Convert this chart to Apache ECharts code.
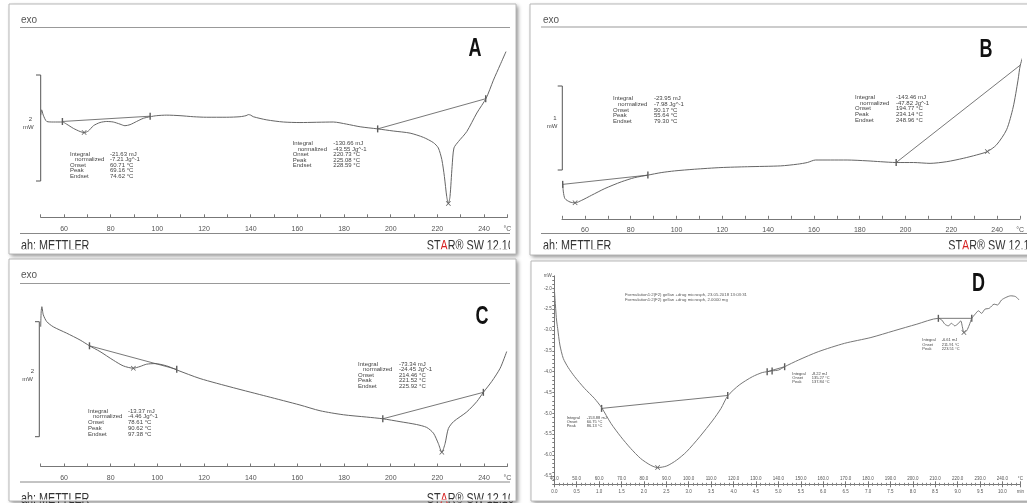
<!DOCTYPE html>
<html><head><meta charset="utf-8">
<script src="https://cdn.jsdelivr.net/npm/echarts@6/dist/echarts.min.js"></script>
<style>html,body{margin:0;padding:0;background:#fff}#c{width:1027px;height:503px}</style>
</head><body><div id="c"></div>
<script>
// ---------- Panel A (heat flow, mW, vs temperature, °C) ----------
const A_temp = [50.0,50.4,51.1,52.6,55.4,59.3,61.1,64.0,66.9,68.6,70.4,72.6,75.4,78.3,81.1,84.0,86.1,88.3,91.1,94.0,96.9,99.7,104.0,109.7,115.4,121.1,129.7,135.4,138.0,139.0,140.0,141.1,146.9,154.0,161.1,175.4,181.1,186.9,194.4,201.1,208.3,214.0,218.3,220.4,221.9,223.0,224.0,224.7,225.4,226.3,227.1,229.0,232.6,236.9,240.9,244.0,246.9,249.4];
const A_heat = [0.09,0.19,0.09,-0.03,-0.04,-0.04,-0.08,-0.16,-0.22,-0.24,-0.21,-0.11,-0.05,-0.03,-0.04,-0.08,-0.11,-0.09,-0.03,0.03,0.06,0.08,0.09,0.08,0.06,0.05,0.05,0.06,0.08,0.10,0.09,0.06,0.0,-0.04,-0.05,-0.04,-0.08,-0.13,-0.17,-0.21,-0.25,-0.33,-0.43,-0.53,-0.75,-1.07,-1.45,-1.58,-1.45,-0.88,-0.53,-0.41,-0.22,0.13,0.41,0.75,1.04,1.29];
const A_base1 = [[59.3,-0.03],[96.9,0.07]];
const A_base2 = [[194.4,-0.17],[240.7,0.40]];
const A_peaks = [[68.6,-0.24],[224.7,-1.58]];

// ---------- Panel B ----------
const B_temp = [50.3,50.6,51.3,53.5,55.7,58.6,62.9,68.7,75.9,81.7,87.5,93.3,99.1,107.8,119.4,131.0,145.5,152.8,157.1,160.7,167.2,174.5,183.2,189.0,195.9,203.5,210.7,218.0,225.2,231.0,235.7,239.7,244.1,247.0,249.1,250.1,252.0];
const B_heat = [-0.20,-0.30,-0.38,-0.42,-0.43,-0.40,-0.34,-0.26,-0.18,-0.13,-0.10,-0.07,-0.05,-0.03,-0.01,0.00,0.01,0.03,0.05,0.08,0.08,0.08,0.07,0.06,0.05,0.05,0.04,0.06,0.10,0.14,0.18,0.26,0.44,0.71,1.03,1.21,1.37];
const B_base1 = [[50.3,-0.21],[87.5,-0.10]];
const B_base2 = [[195.9,0.05],[250.1,1.21]];
const B_peaks = [[55.7,-0.43],[235.7,0.18]];

// ---------- Panel C ----------
const C_temp = [50.0,50.2,50.5,51.1,52.6,55.4,61.1,66.9,70.9,75.4,81.1,85.4,89.7,92.6,95.4,99.0,104.0,108.3,118.3,132.6,146.9,161.1,169.7,179.7,189.7,196.6,204.0,211.1,215.4,218.3,220.4,221.9,223.3,224.7,226.9,232.6,236.9,239.7,243.3,246.9,249.7];
const C_heat = [0.78,1.04,1.13,0.99,0.87,0.78,0.67,0.55,0.45,0.35,0.20,0.10,0.06,0.09,0.13,0.14,0.10,0.03,-0.12,-0.28,-0.43,-0.58,-0.68,-0.75,-0.79,-0.82,-0.87,-0.92,-0.97,-1.07,-1.25,-1.40,-1.25,-0.99,-0.87,-0.70,-0.52,-0.36,-0.17,0.06,0.35];
const C_base1 = [[70.9,0.45],[108.3,0.04]];
const C_base2 = [[196.6,-0.82],[239.7,-0.36]];
const C_peaks = [[89.7,0.06],[221.9,-1.40]];

// ---------- Panel D ----------
const D_temp = [40.0,40.3,40.6,41.0,41.5,42.5,44.0,46.2,49.1,53.5,57.9,61.1,65.3,69.7,74.1,78.5,82.9,86.1,90.2,94.6,99.0,104.9,110.8,114.4,117.4,122.5,128.4,132.8,135.0,137.2,140.1,142.8,149.0,157.8,169.5,181.3,191.5,201.8,211.4,212.9,214.3,215.8,217.3,218.7,220.2,221.4,222.1,222.8,224.0,225.2,226.3,227.8,229.3,230.7,232.2,234.1,236.3,237.8,239.6,241.5,243.7,245.9,247.4];
const D_heat = [-2.00,-2.24,-2.48,-2.76,-2.96,-3.36,-3.68,-3.90,-4.12,-4.40,-4.64,-4.86,-5.24,-5.56,-5.84,-6.08,-6.24,-6.30,-6.26,-6.12,-5.92,-5.56,-5.16,-4.88,-4.58,-4.32,-4.12,-4.02,-4.00,-3.98,-3.96,-3.88,-3.72,-3.52,-3.32,-3.18,-3.02,-2.86,-2.72,-2.76,-2.86,-2.90,-2.84,-2.90,-2.85,-2.78,-2.92,-3.06,-3.02,-2.88,-2.72,-2.62,-2.54,-2.60,-2.50,-2.48,-2.38,-2.40,-2.28,-2.22,-2.18,-2.20,-2.28];
const D_base1 = [[61.1,-4.88],[117.4,-4.57]];
const D_base2 = [[135.0,-4.00],[142.8,-3.88]];
const D_base3 = [[211.4,-2.72],[226.3,-2.72]];
const D_marks = [[61.1,-4.88],[117.4,-4.57],[135.0,-4.00],[137.2,-3.98],[142.8,-3.88],[211.4,-2.72],[226.3,-2.72]];
const D_peaks = [[86.1,-6.30],[222.8,-3.06]];

// ---------- annotation texts ----------
const A_ann1 = ['-21.63 mJ','-7.21 Jg^-1','60.71 °C','69.16 °C','74.62 °C'];
const A_ann2 = ['-130.66 mJ','-43.55 Jg^-1','220.73 °C','225.08 °C','228.59 °C'];
const B_ann1 = ['-23.95 mJ','-7.98 Jg^-1','50.17 °C','55.64 °C','79.30 °C'];
const B_ann2 = ['-143.46 mJ','-47.82 Jg^-1','194.77 °C','234.14 °C','248.96 °C'];
const C_ann1 = ['-13.37 mJ','-4.46 Jg^-1','78.61 °C','90.62 °C','97.38 °C'];
const C_ann2 = ['-73.34 mJ','-24.45 Jg^-1','214.46 °C','221.52 °C','225.92 °C'];
const D_ann1 = ['-153.88 mJ','60.75 °C','86.13 °C'];
const D_ann2 = ['-8.22 mJ','135.27 °C','137.84 °C'];
const D_ann3 = ['-6.61 mJ','211.91 °C','223.51 °C'];
const annLabels5 = ['Integral','   normalized','Onset','Peak','Endset'];
const annLabels3 = ['Integral','Onset','Peak'];
const D_header = ['Formulation1:2(F2) gellan +drug microsph, 23.05.2018 13:03:31','Formulation1:2(F2) gellan +drug microsph, 2.0000 mg'];

const zip = (xs, ys) => xs.map((x, i) => [x, ys[i]]);
const FF = 'Liberation Sans';
const XPATH = 'path://M0,1L1,0L5,4L9,0L10,1L6,5L10,9L9,10L5,6L1,10L0,9L4,5Z';

function abcX(g) {
  return {gridIndex: g, type: 'value', min: 50, max: 250, interval: 10, position: 'bottom',
    axisLine: {show: true, onZero: false, lineStyle: {color: '#777', width: 1}},
    axisTick: {show: true, inside: true, length: 3, lineStyle: {color: '#777'}},
    splitLine: {show: false},
    axisLabel: {fontSize: 7, color: '#555', margin: 8, fontFamily: FF,
      formatter: v => v === 250 ? '°C' : ((v % 20 === 0 && v >= 60) ? String(v) : '')}};
}
function hidY(g, mn, mx) { return {gridIndex: g, type: 'value', min: mn, max: mx, show: false}; }

function line(g, xi, data, w, c, smooth) {
  return {type: 'line', xAxisIndex: xi, yAxisIndex: g, data: data, showSymbol: false, smooth: smooth || false,
    clip: false, silent: true, lineStyle: {color: c || '#555', width: w || 1}};
}
function marks(g, xi, data) {
  return {type: 'scatter', xAxisIndex: xi, yAxisIndex: g, data: data, symbol: 'rect', symbolSize: [1.4, 7],
    silent: true, itemStyle: {color: '#333'}};
}
function peaks(g, xi, data) {
  return {type: 'scatter', xAxisIndex: xi, yAxisIndex: g, data: data, symbol: XPATH, symbolSize: 5,
    silent: true, itemStyle: {color: '#333'}};
}

function txt(x, y, s, st, extra) {
  const style = Object.assign({text: s, fontSize: 6, fontFamily: FF, fill: '#444',
    align: 'left', verticalAlign: 'top', textAlign: 'left', textVerticalAlign: 'top'}, st || {});
  return Object.assign({type: 'text', x: x, y: y, style: style}, extra || {});
}
function hl(x1, x2, y, c) { return {type: 'line', shape: {x1: x1, y1: y, x2: x2, y2: y}, style: {stroke: c || '#999', lineWidth: 1}}; }
function bracket(x0, x1, y0, y1) {
  return {type: 'polyline', shape: {points: [[x0, y0], [x1, y0], [x1, y1], [x0, y1]]}, style: {stroke: '#555', lineWidth: 1, fill: null}};
}
function ann(xl, xv, top, lh, labels, vals, fs) {
  const st = {fontSize: fs || 6, lineHeight: lh};
  return [txt(xl, top, labels.join('\n'), st), txt(xv, top, vals.join('\n'), st)];
}
function letter(x, y, s) {
  return txt(x, y, s, {fontSize: 25, fontWeight: 'bold', fill: '#111', align: 'center', verticalAlign: 'middle',
    textAlign: 'center', textVerticalAlign: 'middle', fontFamily: FF}, {scaleX: 0.72});
}
function footerL(x, y) {
  return txt(x, y, 'ah: METTLER', {fontSize: 15, fill: '#333', fontFamily: FF}, {scaleX: 0.72});
}
function footerR(x, y) {
  return txt(x, y, '{a|ST}{r|A}{a|R® SW 12.10}', {fontSize: 15, fill: '#333', fontFamily: FF,
    rich: {a: {fontSize: 15, fill: '#333', fontFamily: FF}, r: {fontSize: 15, fill: '#d62020', fontFamily: FF}}}, {scaleX: 0.72});
}
const panels = [[9, 4, 507, 250], [530, 4, 505, 251], [9, 259, 507, 242], [531, 261, 505, 240]];

const graphic = [];
panels.forEach(p => graphic.push({type: 'rect', shape: {x: p[0], y: p[1], width: p[2], height: p[3]},
  style: {fill: '#fff', stroke: null, shadowBlur: 4, shadowOffsetX: 1.5, shadowOffsetY: 1.5, shadowColor: 'rgba(0,0,0,0.45)'}}));
// rules
graphic.push(hl(20, 510, 27.5), hl(20, 510, 233.5, '#888'));
graphic.push(hl(541, 1027, 27, '#999'), hl(541, 1027, 233.5, '#888'));
graphic.push(hl(20, 510, 283.5), hl(20, 510, 482, '#888'));
// exo
[[21, 20], [543, 20], [21, 275.7]].forEach(p => graphic.push(txt(p[0], p[1], 'exo', {fontSize: 10, fill: '#555', verticalAlign: 'middle', textVerticalAlign: 'middle'})));
// brackets + scale labels
graphic.push(bracket(36, 40.7, 75, 181), bracket(557.7, 562.3, 86, 170), bracket(35, 39.3, 321.7, 436.7));
const cst = {fontSize: 6, align: 'center', verticalAlign: 'middle', textAlign: 'center', textVerticalAlign: 'middle', fill: '#444'};
graphic.push(txt(30.5, 119.3, '2', cst), txt(28.3, 127.3, 'mW', cst));
graphic.push(txt(555, 118, '1', cst), txt(552, 126.7, 'mW', cst));
graphic.push(txt(32.3, 371.7, '2', cst), txt(27.5, 379, 'mW', cst));
// annotations
graphic.push(...ann(70, 110, 151.2, 5.6, annLabels5, A_ann1));
graphic.push(...ann(292.7, 333.3, 140.5, 5.6, annLabels5, A_ann2));
graphic.push(...ann(613, 654, 95.9, 5.6, annLabels5, B_ann1));
graphic.push(...ann(855, 896, 94.5, 5.7, annLabels5, B_ann2));
graphic.push(...ann(88, 128, 408.2, 5.75, annLabels5, C_ann1));
graphic.push(...ann(358, 399, 361.2, 5.6, annLabels5, C_ann2));
graphic.push(...ann(566.7, 586.7, 415.7, 4, annLabels3, D_ann1, 4));
graphic.push(...ann(792.3, 811.7, 371.3, 4.2, annLabels3, D_ann2, 4));
graphic.push(...ann(922.3, 941.7, 338, 4.5, annLabels3, D_ann3, 4));
graphic.push(txt(625, 293, D_header.join('\n'), {fontSize: 4.3, lineHeight: 4.3, fill: '#555'}));
// panel letters
graphic.push(letter(475, 49.5, 'A'), letter(986, 50, 'B'), letter(482, 317.5, 'C'), letter(978.5, 284, 'D'));
// footers
graphic.push(footerL(21, 238), footerR(426.7, 238));
graphic.push(footerL(543, 238), footerR(948.3, 238));
graphic.push(footerL(21, 491.8), footerR(426.7, 491.8));
// masks (clip the cut-off footers)
graphic.push({type: 'rect', z: 10, shape: {x: 510, y: 230, width: 5.5, height: 23}, style: {fill: '#fff'}});
graphic.push({type: 'rect', z: 10, shape: {x: 510, y: 486, width: 5.5, height: 14.5}, style: {fill: '#fff'}});
graphic.push({type: 'rect', z: 10, shape: {x: 10, y: 249.3, width: 505, height: 4.6}, style: {fill: '#fff'}});
graphic.push({type: 'rect', z: 10, shape: {x: 531, y: 249.3, width: 500, height: 5.6}, style: {fill: '#fff'}});
graphic.push({type: 'rect', z: 10, shape: {x: 10, y: 499.6, width: 505, height: 1.4}, style: {fill: '#fff'}});
// borders on top
panels.forEach(p => graphic.push({type: 'rect', z: 11, shape: {x: p[0], y: p[1], width: p[2], height: p[3]},
  style: {fill: null, stroke: '#b8b8b8', lineWidth: 1}}));

const option = {
  animation: false,
  backgroundColor: '#fff',
  grid: [
    {left: 40.7, top: 29.9, width: 466.7, height: 187.4},
    {left: 562, top: 29.8, width: 460, height: 189},
    {left: 40.7, top: 288.3, width: 466.7, height: 178.2},
    {left: 554.3, top: 275.8, width: 472.2, height: 208.5}
  ],
  xAxis: [
    abcX(0), abcX(1), abcX(2),
    {gridIndex: 3, type: 'value', min: 40, max: 248, interval: 10, position: 'bottom',
      axisLine: {show: true, onZero: false, lineStyle: {color: '#777', width: 1}},
      axisTick: {show: true, inside: true, length: 3, lineStyle: {color: '#777'}},
      minorTick: {show: true, splitNumber: 5, length: 1.5, lineStyle: {color: '#888'}},
      splitLine: {show: false},
      axisLabel: {inside: true, margin: 3, fontSize: 4.5, color: '#555', fontFamily: FF,
        formatter: v => v >= 247.9 ? '°C' : v.toFixed(1)}},
    {gridIndex: 3, type: 'value', min: 0, max: 10.4, interval: 0.5, position: 'bottom',
      axisLine: {show: false, onZero: false},
      axisTick: {show: true, inside: false, length: 3, lineStyle: {color: '#777'}},
      minorTick: {show: true, splitNumber: 5, length: 1.5, lineStyle: {color: '#888'}},
      splitLine: {show: false},
      axisLabel: {margin: 5, fontSize: 4.5, color: '#555', fontFamily: FF,
        formatter: v => v > 10.3 ? 'min' : v.toFixed(1)}}
  ],
  yAxis: [
    hidY(0, -1.84, 1.70), hidY(1, -0.62, 1.63), hidY(2, -1.65, 1.45),
    {gridIndex: 3, type: 'value', min: -6.7, max: -1.7, interval: 0.1,
      axisLine: {show: true, onZero: false, lineStyle: {color: '#777', width: 1}},
      axisTick: {show: true, length: 2, lineStyle: {color: '#777'}},
      splitLine: {show: false},
      axisLabel: {margin: 2.5, fontSize: 4.5, color: '#555', fontFamily: FF,
        formatter: v => { if (v > -1.75) return 'mW'; const r = Math.round(v * 10); return (r % 5 === 0) ? (r / 10).toFixed(1) : ''; }}}
  ],
  graphic: graphic,
  series: [
    line(0, 0, zip(A_temp, A_heat), 1, '#666', 0.25),
    line(0, 0, A_base1, 0.8), line(0, 0, A_base2, 0.8),
    marks(0, 0, A_base1.concat(A_base2)), peaks(0, 0, A_peaks),

    line(1, 1, zip(B_temp, B_heat), 1, '#666', 0.25),
    line(1, 1, B_base1, 0.8), line(1, 1, B_base2, 0.8),
    marks(1, 1, B_base1.concat(B_base2)), peaks(1, 1, B_peaks),

    line(2, 2, zip(C_temp, C_heat), 1, '#666', 0.25),
    line(2, 2, C_base1, 0.8), line(2, 2, C_base2, 0.8),
    marks(2, 2, C_base1.concat(C_base2)), peaks(2, 2, C_peaks),

    line(3, 3, zip(D_temp, D_heat), 1, '#777', 0.25),
    line(3, 3, D_base1, 0.8), line(3, 3, D_base2, 0.8), line(3, 3, D_base3, 0.8),
    marks(3, 3, D_marks), peaks(3, 3, D_peaks)
  ]
};
const chart = echarts.init(document.getElementById('c'), null, {renderer: 'canvas'});
chart.setOption(option);
</script></body></html>
